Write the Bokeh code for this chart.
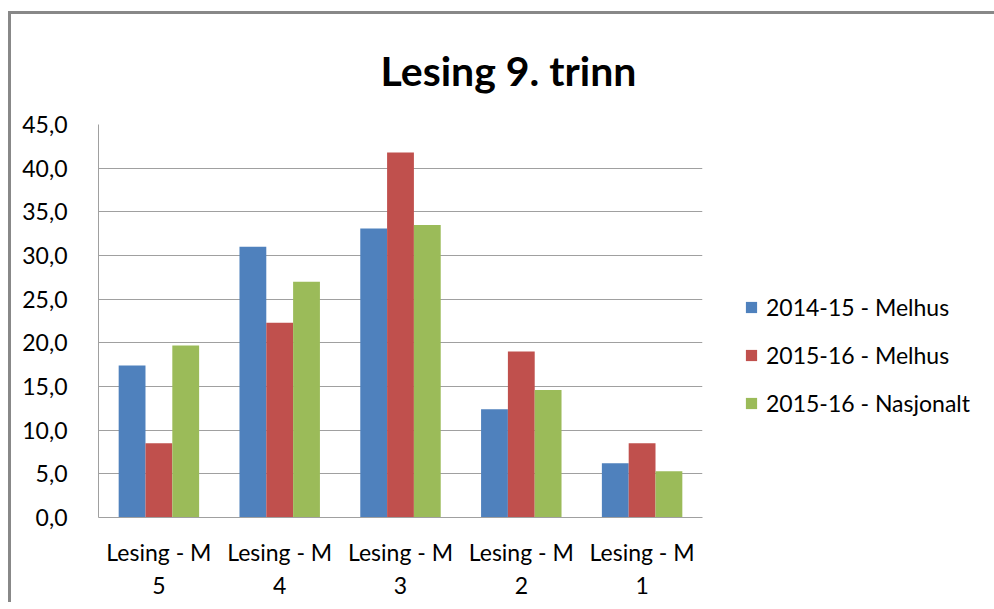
from bokeh.plotting import figure
from bokeh.models import (ColumnDataSource, FactorRange, Legend, LegendItem, FixedTicker)
from bokeh.transform import dodge
from bokeh.embed import file_html
from bokeh.resources import INLINE

categories = ["Lesing - M\n5", "Lesing - M\n4", "Lesing - M\n3", "Lesing - M\n2", "Lesing - M\n1"]
series_names = ["2014-15 - Melhus", "2015-16 - Melhus", "2015-16 - Nasjonalt"]
melhus_1415 = [17.4, 31.0, 33.1, 12.4, 6.2]
melhus_1516 = [8.5, 22.3, 41.8, 19.0, 8.5]
nasjonalt_1516 = [19.7, 27.0, 33.5, 14.6, 5.3]
y_ticks = [0, 5, 10, 15, 20, 25, 30, 35, 40, 45]
y_tick_labels = ["0,0", "5,0", "10,0", "15,0", "20,0", "25,0", "30,0", "35,0", "40,0", "45,0"]
colors = ["#4F81BD", "#C0504D", "#9BBB59"]

FONT = "Lato"

source = ColumnDataSource(dict(cat=categories, a=melhus_1415, b=melhus_1516, c=nasjonalt_1516))

p = figure(x_range=FactorRange(*categories), y_range=(0, 45),
           frame_width=604, frame_height=393, output_backend="svg", toolbar_location=None,
           min_border_left=87, min_border_right=0, min_border_top=110, min_border_bottom=84,
           styles={"border-left": "3px solid #888888", "border-top": "3px solid #888888",
                   "margin-left": "8px", "margin-top": "11px"})

w = 0.222
renderers = []
for key, off, col in zip(["a", "b", "c"], [-w, 0, w], colors):
    r = p.vbar(x=dodge("cat", off, range=p.x_range), top=key, width=w, source=source,
               fill_color=col, line_color=None)
    renderers.append(r)

# title
p.title.text = "Lesing 9. trinn"
p.title.text_font = FONT
p.title.text_font_style = "bold"
p.title.text_font_size = "41px"
p.title.align = "left"
p.title.offset = 282
p.title.standoff = 59
p.title.text_color = "#000000"

# axes
p.yaxis.ticker = FixedTicker(ticks=y_ticks)
p.yaxis.major_label_overrides = {t: l for t, l in zip(y_ticks, y_tick_labels)}
for ax in (p.xaxis, p.yaxis):
    ax.major_tick_line_color = None
    ax.minor_tick_line_color = None
    ax.axis_line_color = "#A0A0A0"
    ax.axis_line_width = 1
    ax.major_label_text_font = FONT
    ax.major_label_text_font_size = "23px"
    ax.major_label_text_color = "#000000"
p.yaxis.major_label_standoff = 25
p.xaxis.major_label_standoff = 14

p.xgrid.grid_line_color = None
p.ygrid.grid_line_color = "#A0A0A0"
p.ygrid.grid_line_width = 1
p.outline_line_color = None
p.x_range.range_padding = 0
p.x_range.group_padding = 0

legend = Legend(items=[LegendItem(label=n, renderers=[r]) for n, r in zip(series_names, renderers)],
                location=(42, 100))
legend.label_text_font = FONT
legend.label_text_font_size = "23px"
legend.label_text_color = "#000000"
legend.glyph_width = 14
legend.glyph_height = 14
legend.spacing = 20
legend.border_line_color = None
legend.background_fill_alpha = 0
legend.margin = 0
legend.padding = 0
legend.label_standoff = 8
p.add_layout(legend, "right")

open("out.html", "w").write(file_html(p, INLINE))
